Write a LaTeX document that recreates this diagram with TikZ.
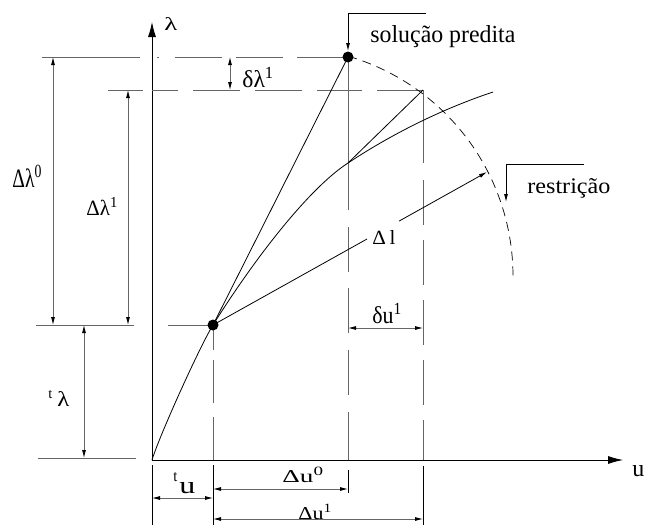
\documentclass[tikz,border=0pt]{standalone}
\usepackage{fontspec}
\setmainfont{Liberation Serif}
\usetikzlibrary{arrows.meta,calc}
\newcommand\fitlbl[3]{\resizebox{#1pt}{#2pt}{#3}}
\begin{document}
\begin{tikzpicture}[x=1pt,y=-1pt,line width=0.8pt,
  tip/.tip={Latex[length=8pt,width=4pt,color=black]},
  axtip/.tip={Latex[length=15pt,width=8pt]},
  dimline/.style={draw=black!60,tip-tip},
  extline/.style={draw=black!60},
  dashline/.style={draw=black!60},
  leader/.style={draw=black,-tip},
  lbl/.style={inner sep=0pt,anchor=base west}]
\useasboundingbox (0,0) rectangle (645,525);
% key points
\coordinate (O) at (152,460);
\coordinate (ytip) at (152,22);
\coordinate (xtip) at (623,460);
\coordinate (P1) at (213,325);
\coordinate (P2) at (348,57);
\coordinate (C) at (423,90);
\coordinate (X) at (348,163);
\coordinate (Q) at (487,172);
\coordinate (E) at (493,92);
% axes
\draw[-axtip] (O) -- (ytip);
\draw[-axtip] (O) -- (xtip);
% horizontal reference lines
\coordinate (h1a) at (42,57);  \coordinate (h1b) at (140,57);
\coordinate (h1c) at (157,57);
\draw[extline] (h1a) -- (h1b);
\draw[dashline,dash pattern=on 2pt off 16pt on 47pt off 14pt on 47pt off 14pt on 47pt off 100pt] (h1c) -- (P2);
\coordinate (h2a) at (108,90);  \coordinate (h2b) at (143,90);
\coordinate (h2c) at (152,90);
\draw[extline] (h2a) -- (h2b);
\draw[dashline,dash pattern=on 26pt off 15pt on 47pt off 15pt on 47pt off 15pt on 45pt off 15pt on 60pt] (h2c) -- (C);
\coordinate (h3a) at (36,325);  \coordinate (h3b) at (134,325);
\coordinate (h3c) at (168,325);
\draw[extline] (h3a) -- (h3b);
\draw[extline] (h3c) -- (P1);
\coordinate (h4a) at (38,458);  \coordinate (h4b) at (136,458);
\draw[extline] (h4a) -- (h4b);
% vertical dimension lines
\coordinate (d0a) at (53,57);  \coordinate (d0b) at (53,325);
\draw[dimline] (d0a) -- (d0b);
\coordinate (d1a) at (128,90); \coordinate (d1b) at (128,325);
\draw[dimline] (d1a) -- (d1b);
\coordinate (dta) at (84,325); \coordinate (dtb) at (84,458);
\draw[dimline] (dta) -- (dtb);
\coordinate (dla) at (230,57); \coordinate (dlb) at (230,90);
\draw[dimline] (dla) -- (dlb);
% vertical dashed lines
\coordinate (v1b) at (213,460);
\draw[dashline,dash pattern=on 25pt off 10pt on 43pt off 14pt on 60pt] (P1) -- (v1b);
\coordinate (v2b) at (348,460);
\draw[dashline,dash pattern=on 153pt off 17pt on 45pt off 16pt on 45pt off 17pt on 45pt off 17pt on 60pt] (P2) -- (v2b);
\coordinate (v3b) at (423,460);
\draw[dashline,dash pattern=on 73pt off 17pt on 45pt off 15pt on 45pt off 15pt on 45pt off 15pt on 45pt off 15pt on 60pt] (C) -- (v3b);
% extension lines below the u axis
\coordinate (e1a) at (152,465); \coordinate (e1b) at (152,525);
\coordinate (e2a) at (213,465); \coordinate (e2b) at (213,525);
\coordinate (e3a) at (348,470); \coordinate (e3b) at (348,493);
\coordinate (e4a) at (423,466); \coordinate (e4b) at (423,525);
\draw[draw=black] (e1a) -- (e1b);
\draw[draw=black] (e2a) -- (e2b);
\draw[draw=black] (e3a) -- (e3b);
\draw[draw=black] (e4a) -- (e4b);
% horizontal dimension lines
\coordinate (tua) at (152,498); \coordinate (tub) at (213,498);
\draw[dimline] (tua) -- (tub);
\coordinate (u0a) at (213,489); \coordinate (u0b) at (348,489);
\draw[dimline] (u0a) -- (u0b);
\coordinate (u1a) at (213,519); \coordinate (u1b) at (423,519);
\draw[dimline] (u1a) -- (u1b);
\coordinate (dua) at (348,328); \coordinate (dub) at (423,328);
\draw[dimline] (dua) -- (dub);
% equilibrium curve
\draw (O) .. controls (160,434) and (201,344) .. (P1)
          .. controls (253,261) and (308,189) .. (X)
          .. controls (398,130) and (448,107) .. (E);
% predictor and corrector lines
\draw (P1) -- (P2);
\draw (C) -- (X);
% arc-length line with label break
\draw (P1) -- ($(P1)!0.562!(Q)$);
\draw[-tip] ($(P1)!0.679!(Q)$) -- (Q);
% constraint arc
\draw[dash pattern=on 9pt off 6pt,line width=0.7pt] plot[domain=-73.7:0,samples=60] ({284+229*cos(\x)},{276+229*sin(\x)});
% points
\fill (P1) circle[radius=5.5];
\fill (P2) circle[radius=5.5];
% leaders
\coordinate (s1) at (426,13); \coordinate (s2) at (348,13); \coordinate (s3) at (348,51);
\draw[leader] (s1) -- (s2) -- (s3);
\coordinate (r1) at (584,164); \coordinate (r2) at (506,164); \coordinate (r3) at (506,202);
\draw[leader] (r1) -- (r2) -- (r3);
% labels
\node[lbl] (lam) at (164,30) {\fitlbl{13}{13}{λ}};
\node[lbl] (u) at (632,476) {\fitlbl{12}{11}{u}};
\node[lbl] (dlam1) at (242,87) {\fitlbl{32}{20}{δλ\textsuperscript{1}}};
\node[lbl] (Dlam0) at (12,187) {\fitlbl{30}{22}{Δλ\textsuperscript{0}}};
\node[lbl] (Dlam1) at (86,215) {\fitlbl{32}{18}{Δλ\textsuperscript{1}}};
\node[lbl] (tlam) at (48,406) {\raisebox{8pt}{\fitlbl{4}{8}{t}}\hspace{5pt}\fitlbl{12}{15}{λ}};
\node[lbl] (tu) at (173,493) {\raisebox{12pt}{\fitlbl{4}{9}{t}}\hspace{2pt}\fitlbl{16}{11}{u}};
\node[lbl] (Du0) at (282,482) {\fitlbl{42}{15}{Δu\textsuperscript{0}}};
\node[lbl] (Du1) at (298,519) {\fitlbl{34}{15}{Δu\textsuperscript{1}}};
\node[lbl] (du1) at (372,323) {\fitlbl{30}{20}{δu\textsuperscript{1}}};
\node[lbl] (Dl) at (372,244) {\fitlbl{23}{14}{Δ\,l}};
\node[lbl] (sol) at (370,42) {\fitlbl{145}{17}{solução predita}};
\node[lbl] (res) at (527,193) {\fitlbl{83}{15}{restrição}};
\end{tikzpicture}
\end{document}
